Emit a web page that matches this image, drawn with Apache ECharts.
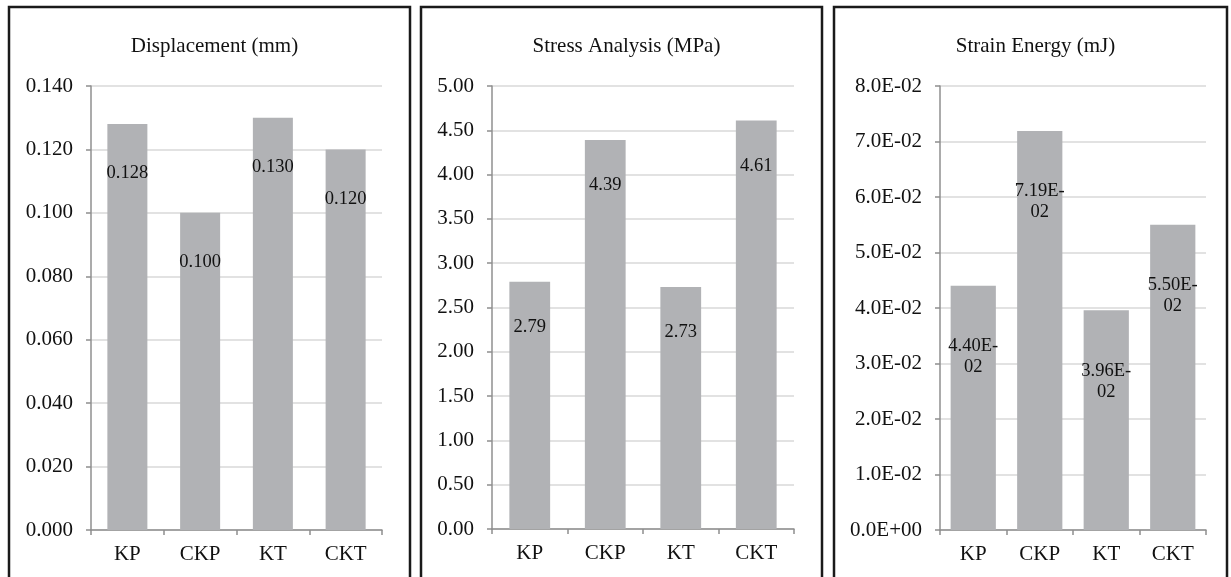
<!DOCTYPE html>
<html><head><meta charset="utf-8">
<script src="https://cdn.jsdelivr.net/npm/echarts@6/dist/echarts.min.js"></script>
<style>html,body{margin:0;padding:0;background:#fff}#c{width:1231px;height:577px}</style>
</head><body><div id="c"></div>
<script>
const categories = ['KP', 'CKP', 'KT', 'CKT'];
const displacement = [0.128, 0.100, 0.130, 0.120];
const stress = [2.79, 4.39, 2.73, 4.61];
const strainEnergy = [0.0440, 0.0719, 0.0396, 0.0550];
const titles = ['Displacement (mm)', 'Stress Analysis (MPa)', 'Strain Energy (mJ)'];

const FONT = 'Liberation Serif';
const TXT = '#111';
function sci(v, d) {
  const parts = v.toExponential(d).split('e');
  const e = parseInt(parts[1], 10);
  const sign = e < 0 ? '-' : '+';
  const abs = Math.abs(e);
  return parts[0] + 'E' + sign + (abs < 10 ? '0' + abs : '' + abs);
}
const panels = [
  {x: 9, w: 401, grid: {left: 91, top: 86, width: 291, height: 444}, max: 0.14, interval: 0.02,
   fmt: v => v.toFixed(3), lab: v => v.toFixed(3), dist: 39, barW: '55%', data: displacement},
  {x: 421, w: 401, grid: {left: 492, top: 86, width: 302, height: 443}, max: 5, interval: 0.5,
   fmt: v => v.toFixed(2), lab: v => v.toFixed(2), dist: 35, barW: '54%', data: stress},
  {x: 834, w: 393, grid: {left: 940, top: 86, width: 266, height: 444}, max: 0.08, interval: 0.01,
   fmt: v => sci(v, 1), lab: v => sci(v, 2).replace('E-', 'E-\n'), dist: 50, barW: '68%', data: strainEnergy}
];

const option = {
  animation: false,
  backgroundColor: '#fff',
  title: panels.map((p, i) => ({
    text: titles[i], left: p.x + p.w / 2, top: 31, textAlign: 'center',
    textStyle: {fontFamily: FONT, fontSize: 21, fontWeight: 'normal', color: TXT}
  })),
  graphic: panels.map(p => ({
    type: 'rect', shape: {x: p.x, y: 7, width: p.w, height: 620},
    style: {fill: 'none', stroke: '#1a1a1a', lineWidth: 2.5}, z: 100
  })),
  grid: panels.map(p => Object.assign({containLabel: false}, p.grid)),
  xAxis: panels.map((p, i) => ({
    type: 'category', gridIndex: i, data: categories,
    axisLine: {lineStyle: {color: '#8f8f8f', width: 1.5}},
    axisTick: {show: true, length: 5, lineStyle: {color: '#8f8f8f', width: 1.5}},
    axisLabel: {fontFamily: FONT, fontSize: 21, color: TXT, margin: 14}
  })),
  yAxis: panels.map((p, i) => ({
    type: 'value', gridIndex: i, min: 0, max: p.max, interval: p.interval,
    axisLine: {show: true, lineStyle: {color: '#8f8f8f', width: 1.5}},
    axisTick: {show: true, length: 5, lineStyle: {color: '#8f8f8f', width: 1.5}},
    splitLine: {lineStyle: {color: '#d9d9d9', width: 1.5}},
    axisLabel: {fontFamily: FONT, fontSize: 21, color: TXT, margin: 18, formatter: p.fmt}
  })),
  series: panels.map((p, i) => ({
    type: 'bar', xAxisIndex: i, yAxisIndex: i, data: p.data, barWidth: p.barW,
    itemStyle: {color: '#b1b2b5'},
    label: {show: true, position: 'insideTop', distance: p.dist, fontFamily: FONT, fontSize: 18.5,
      color: TXT, lineHeight: 21, align: 'center', formatter: d => p.lab(d.value)}
  }))
};
const chart = echarts.init(document.getElementById('c'), null, {renderer: 'canvas'});
chart.setOption(option);
</script></body></html>
